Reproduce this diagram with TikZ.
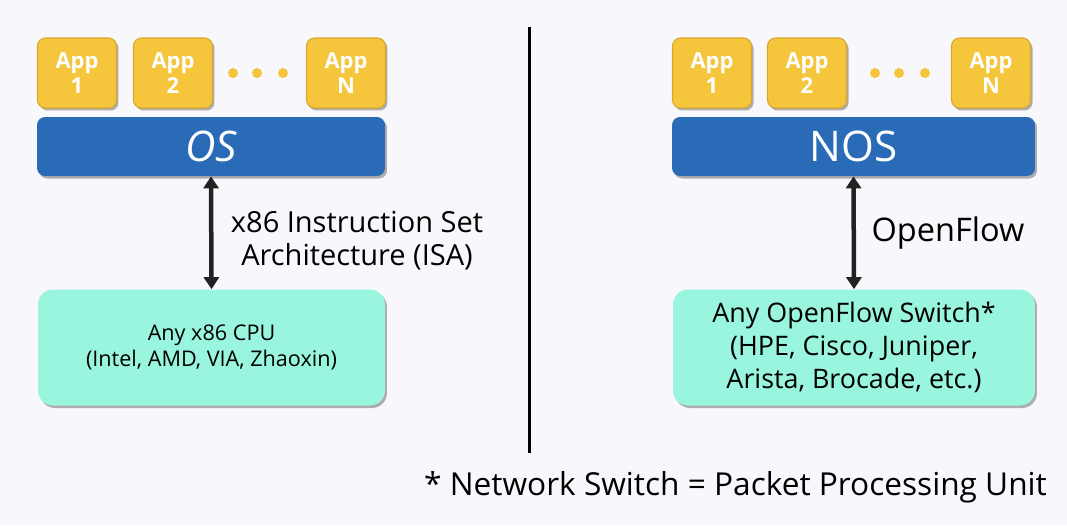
\documentclass[tikz,border=0pt]{standalone}
\usepackage{fontspec}
\setmainfont{Open Sans}
\usetikzlibrary{arrows.meta,positioning,shadows}
\definecolor{bgcol}{HTML}{F8F8FC}
\definecolor{appyellow}{HTML}{F5C53C}
\definecolor{appedge}{HTML}{D9A82A}
\definecolor{osblue}{HTML}{2A6BB8}
\definecolor{hwgreen}{HTML}{9AF5DF}
\definecolor{arrowgray}{HTML}{222222}

\begin{document}
\begin{tikzpicture}[x=0.02cm,y=-0.02cm,every text node part/.style={align=center},
    boxshadow/.style={drop shadow={shadow xshift=0.04cm,shadow yshift=-0.05cm,opacity=0.3,fill=black}},
    app/.style={draw=appedge,line width=0.6pt,fill=appyellow,rounded corners=0.16cm,boxshadow,
      minimum width=1.58cm,minimum height=1.4cm,inner sep=0pt,text=white,
      font=\fontsize{12.5}{14.5}\selectfont\bfseries},
    osbar/.style={fill=osblue,rounded corners=0.16cm,boxshadow,minimum height=1.18cm,
      inner sep=0pt,text=white,font=\fontsize{24}{26}\selectfont},
    hwbox/.style={fill=hwgreen,rounded corners=0.3cm,boxshadow,minimum height=2.32cm,inner sep=0pt},
    apiarrow/.style={{Triangle[width=0.3cm,length=0.24cm]}-{Triangle[width=0.3cm,length=0.24cm]},
      line width=0.09cm,draw=arrowgray}]
    \useasboundingbox (0,0) rectangle (1067,525);
    \fill[bgcol] (0,0) rectangle (1067,525);

    % left: computer
    \node[app] (lapp1) at (77,73) {App\\1};
    \node[app] (lapp2) at (173,73) {App\\2};
    \node[app] (lappn) at (346,73) {App\\N};
    \foreach \x in {233,257,283}
      \fill[appyellow] (\x,73) circle[radius=0.1cm];
    \node[osbar,minimum width=6.96cm] (os) at (211,146.5) {\itshape OS};
    \node[hwbox,minimum width=6.94cm,font=\fontsize{12.3}{14.5}\selectfont] (cpu) at (211.5,347.5)
      {Any x86 CPU\\(Intel, AMD, VIA, Zhaoxin)};
    \draw[apiarrow] (os.south) to (cpu.north);
    \node[font=\fontsize{16.5}{18.8}\selectfont] (isa) at (357,241) {x86 Instruction Set\\Architecture (ISA)};

    \coordinate (divtop) at (529,27);
    \coordinate (divbot) at (529,453);
    \draw[line width=0.06cm] (divtop) -- (divbot);

    % right: network
    \node[app] (rapp1) at (712,73) {App\\1};
    \node[app] (rapp2) at (807,73) {App\\2};
    \node[app] (rappn) at (991,73) {App\\N};
    \foreach \x in {875,899,925}
      \fill[appyellow] (\x,73) circle[radius=0.1cm];
    \node[osbar,minimum width=7.26cm] (nos) at (853.5,146.5) {NOS};
    \node[hwbox,minimum width=7.24cm,font=\fontsize{15.3}{19}\selectfont] (switch) at (854,347.5)
      {Any OpenFlow Switch*\\(HPE, Cisco, Juniper,\\Arista, Brocade, etc.)};
    \draw[apiarrow] (nos.south) to (switch.north);
    \node[font=\fontsize{18.5}{19}\selectfont] (openflow) at (948,233) {OpenFlow};

    \node[font=\fontsize{18}{20}\selectfont] (note) at (735.5,487) {* Network Switch = Packet Processing Unit};
\end{tikzpicture}
\end{document}
